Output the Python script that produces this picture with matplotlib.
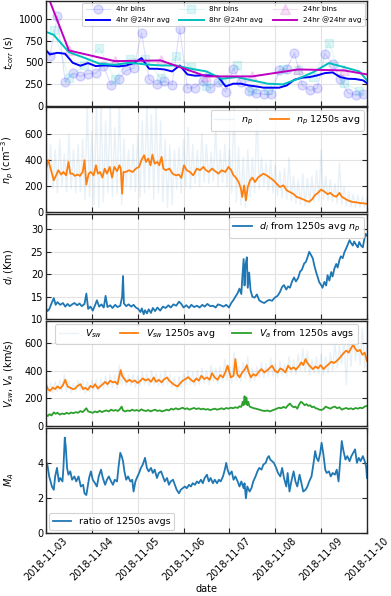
import numpy as np
import pandas as pd
import matplotlib
matplotlib.use('Agg')
import matplotlib.pyplot as plt

plt.rcParams['font.family'] = ['DejaVu Sans']
plt.rcParams['mathtext.fontset'] = 'dejavusans'

START = pd.Timestamp('2018-11-03')
X_END_DAYS = 7.0

# ---------------- panel 1: correlation times (s) ----------------
bins4_vals = [567, 1027, 276, 375, 337, 368, 375, 460, 241, 310, 406, 433, 839, 306,
              245, 283, 241, 885, 203, 207, 287, 200, 272, 157, 425, 272, 168, 145,
              130, 130, 406, 425, 609, 241, 176, 203, 598, 480, 310, 145, 126, 138]
avg4_vals = [690, 590, 609, 598, 494, 460, 490, 456, 463, 460, 452, 463, 490, 548, 425,
             425, 417, 394, 463, 360, 345, 349, 349, 337, 222, 253, 253, 233, 222, 207,
             207, 207, 233, 299, 322, 329, 349, 375, 383, 329, 310, 307, 291, 228]
bins8_vals = [866, 318, 470, 667, 302, 540, 540, 318, 567, 450, 222, 300, 463, 175,
              175, 425, 406, 330, 720, 260, 168]
avg8_vals = [885, 816, 616, 552, 483, 471, 495, 475, 463, 463, 425, 394, 310, 329, 291,
             253, 245, 310, 387, 490, 444, 394, 190]
bins24_days = [0.5, 1.5, 2.5, 3.5, 4.5, 5.5, 6.5]
bins24_vals = [636, 513, 521, 337, 337, 417, 406]
avg24_days = [-0.5, 0.5, 1.5, 2.5, 3.5, 4.5, 5.5, 6.5, 7.5]
avg24_vals = [2000, 636, 513, 521, 337, 337, 417, 406, 314]

# ---------------- panel 2: proton density ----------------
np_raw_hi = [650, 520, 480, 560, 450, 600, 480, 520, 560, 850, 620, 850, 850, 700, 850, 650,
             850, 560, 480, 520, 600, 700, 850, 750, 850, 700, 560, 520, 480, 500, 560, 650,
             520, 480, 600, 520, 460, 650, 480, 520, 480, 850, 500, 420, 480, 420, 800, 420,
             380, 400, 360, 320, 340, 420, 280, 250, 300, 260, 280, 320, 480, 280, 250, 220,
             380, 200, 160, 140, 130, 120, 110]
np_raw_lo = [250, 180, 150, 200, 160, 180, 150, 160, 100, 120, 60, 40, 80, 150, 120, 140,
             60, 200, 180, 160, 120, 150, 180, 100, 150, 80, 40, 60, 180, 150, 200, 180,
             220, 200, 230, 220, 240, 200, 230, 200, 150, 80, 60, 40, 120, 150, 180, 200,
             170, 150, 130, 110, 100, 90, 70, 60, 50, 70, 80, 90, 100, 90, 80, 70,
             60, 50, 45, 40, 40, 40, 40]
np_days = [0.00, 0.05, 0.11, 0.17, 0.22, 0.27, 0.33, 0.38, 0.44, 0.49, 0.53, 0.58, 0.63, 0.69,
           0.74, 0.80, 0.84, 0.88, 0.93, 0.98, 1.04, 1.09, 1.13, 1.18, 1.23, 1.28, 1.33, 1.39,
           1.44, 1.49, 1.55, 1.60, 1.63, 1.66, 1.69, 1.74, 1.81, 1.89, 1.96, 2.03, 2.08, 2.14,
           2.18, 2.23, 2.28, 2.32, 2.37, 2.43, 2.47, 2.52, 2.56, 2.61, 2.69, 2.76, 2.83, 2.90,
           2.95, 3.01, 3.07, 3.14, 3.21, 3.29, 3.36, 3.43, 3.49, 3.55, 3.62, 3.69, 3.76, 3.83,
           3.91, 3.98, 4.04, 4.09, 4.14, 4.20, 4.25, 4.28, 4.32, 4.36, 4.40, 4.45, 4.50, 4.56,
           4.62, 4.67, 4.74, 4.81, 4.88, 4.96, 5.03, 5.10, 5.18, 5.25, 5.32, 5.39, 5.47, 5.54,
           5.61, 5.68, 5.74, 5.80, 5.86, 5.93, 6.00, 6.07, 6.14, 6.20, 6.26, 6.33, 6.40, 6.45,
           6.52, 6.60, 6.68, 6.76, 6.84, 6.92, 7.00]
np_avg = [336, 400, 323, 246, 284, 323, 290, 310, 284, 387, 297, 297, 280, 290, 280, 310,
          400, 213, 297, 310, 284, 361, 297, 310, 267, 336, 297, 349, 267, 349, 316, 361,
          336, 144, 310, 310, 323, 310, 336, 349, 400, 438, 387, 413, 361, 443, 374, 387,
          361, 426, 336, 323, 336, 297, 284, 290, 264, 361, 323, 310, 284, 336, 323, 349,
          323, 310, 336, 316, 297, 323, 310, 349, 323, 284, 267, 233, 182, 118, 207, 92,
          195, 246, 267, 233, 267, 280, 297, 284, 267, 246, 220, 195, 207, 169, 156, 143,
          118, 110, 100, 88, 82, 100, 130, 150, 175, 160, 140, 150, 130, 120, 150, 120,
          105, 90, 80, 78, 72, 70, 66]

# ---------------- panel 3: ion inertial length ----------------
di_days = [0.00, 0.03, 0.07, 0.12, 0.17, 0.21, 0.25, 0.31, 0.37, 0.42, 0.47, 0.52, 0.57, 0.62,
           0.68, 0.73, 0.78, 0.84, 0.88, 0.92, 0.97, 1.02, 1.07, 1.11, 1.16, 1.21, 1.26, 1.30,
           1.34, 1.40, 1.45, 1.51, 1.56, 1.62, 1.66, 1.68, 1.70, 1.75, 1.80, 1.86, 1.91, 1.96,
           2.01, 2.06, 2.09, 2.13, 2.16, 2.20, 2.24, 2.29, 2.33, 2.38, 2.43, 2.49, 2.55, 2.61,
           2.67, 2.72, 2.78, 2.84, 2.90, 2.95, 3.00, 3.06, 3.12, 3.17, 3.23, 3.29, 3.35, 3.41,
           3.46, 3.52, 3.58, 3.64, 3.70, 3.75, 3.81, 3.87, 3.93, 3.99, 4.04, 4.09, 4.13, 4.18,
           4.22, 4.26, 4.28, 4.31, 4.33, 4.35, 4.38, 4.40, 4.43, 4.46, 4.50, 4.55, 4.60, 4.65,
           4.71, 4.76, 4.81, 4.87, 4.93, 4.99, 5.05, 5.10, 5.15, 5.19, 5.24, 5.28, 5.32, 5.37,
           5.41, 5.45, 5.50, 5.54, 5.58, 5.63, 5.67, 5.71, 5.74, 5.78, 5.82, 5.85, 5.89, 5.93,
           5.96, 6.00, 6.03, 6.07, 6.11, 6.14, 6.18, 6.22, 6.25, 6.29, 6.33, 6.36, 6.40, 6.43,
           6.47, 6.51, 6.54, 6.58, 6.62, 6.65, 6.69, 6.72, 6.76, 6.80, 6.83, 6.87, 6.91, 6.94,
           6.97, 7.00]
di_vals = [12.5, 11.8, 12.2, 13.5, 14.7, 13.2, 13.8, 13.2, 13.6, 12.8, 13.4, 12.9, 13.3, 13.6,
           13.1, 13.5, 12.9, 13.4, 15.7, 12.3, 12.8, 11.9, 13.1, 14.2, 12.8, 13.3, 12.6, 15.2,
           12.7, 13.1, 12.5, 13.2, 12.7, 13.0, 15.0, 19.6, 13.5, 12.9, 13.3, 12.8, 13.2, 12.6,
           12.3, 11.6, 12.4, 11.1, 12.0, 11.3, 12.2, 11.4, 12.5, 11.8, 12.6, 11.9, 12.8, 12.5,
           13.1, 12.6, 13.3, 13.0, 13.9, 13.4, 12.6, 13.1, 12.5, 13.2, 12.7, 13.0, 12.6, 13.2,
           12.8, 13.4, 12.9, 13.0, 12.6, 13.3, 13.1, 12.8, 13.2, 12.6, 13.6, 14.3, 15.0, 15.8,
           16.8, 15.6, 19.0, 23.4, 17.5, 22.0, 23.8, 17.0, 20.4, 16.5, 15.0, 14.8, 15.5, 14.2,
           13.8, 13.6, 14.0, 14.3, 14.1, 14.8, 15.2, 16.0, 17.2, 17.6, 16.6, 17.3, 17.0, 18.5,
           19.3, 18.4, 19.2, 20.6, 21.0, 22.4, 22.8, 24.0, 25.0, 24.3, 23.5, 22.0, 20.5, 19.2,
           18.2, 17.6, 17.0, 18.3, 17.5, 19.8, 18.6, 20.5, 19.5, 21.3, 22.3, 21.5, 23.2, 24.0,
           23.6, 25.0, 25.6, 26.6, 27.6, 27.0, 26.4, 27.3, 26.6, 26.0, 27.2, 26.4, 26.0, 27.8,
           29.0, 28.6]

# ---------------- panel 4: speeds (km/s) ----------------
vsw_raw_hi = [340, 310, 320, 330, 370, 320, 310, 330, 330, 320, 330, 340, 340, 360, 370, 370,
              440, 380, 370, 370, 360, 390, 380, 400, 380, 380, 400, 370, 350, 360, 380, 400,
              390, 400, 420, 400, 440, 420, 430, 480, 440, 530, 430, 460, 500, 420, 430, 460,
              450, 490, 450, 470, 450, 500, 480, 520, 560, 540, 480, 500, 520, 500, 530, 600,
              580, 620, 680, 650, 640, 700, 600]
vsw_raw_lo = [240, 240, 250, 250, 250, 240, 250, 260, 240, 250, 260, 250, 270, 280, 280, 270,
              300, 290, 290, 280, 290, 300, 290, 300, 290, 290, 300, 280, 260, 280, 300, 300,
              290, 300, 310, 300, 320, 310, 320, 330, 310, 330, 320, 340, 320, 330, 350, 350,
              360, 360, 350, 370, 360, 380, 370, 400, 390, 370, 380, 380, 370, 380, 400, 420,
              450, 300, 430, 470, 440, 420, 420]
vsw_days = [0.00, 0.04, 0.09, 0.15, 0.20, 0.25, 0.31, 0.37, 0.42, 0.47, 0.53, 0.59, 0.64, 0.69,
            0.75, 0.81, 0.86, 0.91, 0.97, 1.02, 1.07, 1.13, 1.18, 1.24, 1.29, 1.34, 1.40, 1.46,
            1.51, 1.56, 1.60, 1.63, 1.66, 1.71, 1.76, 1.82, 1.88, 1.94, 2.00, 2.06, 2.11, 2.17,
            2.23, 2.29, 2.35, 2.40, 2.46, 2.52, 2.58, 2.64, 2.69, 2.75, 2.81, 2.87, 2.93, 2.98,
            3.04, 3.10, 3.16, 3.22, 3.28, 3.33, 3.39, 3.45, 3.51, 3.57, 3.62, 3.68, 3.74, 3.80,
            3.86, 3.91, 3.96, 3.99, 4.03, 4.09, 4.13, 4.17, 4.22, 4.28, 4.34, 4.38, 4.42, 4.47,
            4.52, 4.58, 4.64, 4.70, 4.76, 4.81, 4.87, 4.93, 4.99, 5.05, 5.11, 5.16, 5.22, 5.28,
            5.34, 5.40, 5.45, 5.51, 5.57, 5.61, 5.66, 5.70, 5.76, 5.82, 5.88, 5.93, 5.99, 6.05,
            6.11, 6.17, 6.22, 6.28, 6.34, 6.40, 6.46, 6.50, 6.55, 6.60, 6.65, 6.70, 6.73, 6.79,
            6.85, 6.90, 6.95, 7.00]
vsw_avg = [302, 266, 254, 278, 266, 286, 271, 295, 334, 286, 276, 266, 271, 290, 302, 266,
           276, 261, 290, 278, 302, 271, 286, 302, 319, 302, 327, 315, 319, 302, 363, 404,
           363, 339, 319, 334, 319, 329, 310, 327, 344, 329, 339, 319, 351, 319, 334, 315,
           339, 351, 327, 310, 295, 286, 310, 327, 339, 353, 334, 319, 344, 327, 363, 339,
           351, 334, 382, 351, 334, 368, 351, 387, 436, 399, 351, 363, 484, 375, 351, 387,
           411, 440, 387, 351, 375, 363, 392, 411, 387, 399, 416, 436, 399, 387, 416, 407,
           387, 436, 411, 424, 407, 431, 460, 440, 484, 455, 431, 411, 431, 416, 440, 411,
           431, 448, 465, 455, 470, 490, 515, 530, 545, 530, 560, 590, 565, 540, 550, 515,
           530, 470]
va_days = [0.00, 0.04, 0.08, 0.12, 0.17, 0.21, 0.25, 0.30, 0.35, 0.40, 0.45, 0.50, 0.55, 0.60,
           0.65, 0.70, 0.75, 0.80, 0.85, 0.88, 0.92, 0.97, 1.02, 1.07, 1.12, 1.17, 1.22, 1.27,
           1.32, 1.37, 1.42, 1.47, 1.52, 1.57, 1.62, 1.65, 1.68, 1.73, 1.78, 1.83, 1.88, 1.93,
           1.98, 2.03, 2.08, 2.13, 2.18, 2.23, 2.28, 2.33, 2.38, 2.43, 2.48, 2.53, 2.58, 2.63,
           2.68, 2.73, 2.78, 2.83, 2.88, 2.93, 2.98, 3.03, 3.08, 3.13, 3.18, 3.23, 3.28, 3.33,
           3.38, 3.43, 3.48, 3.53, 3.58, 3.63, 3.68, 3.73, 3.78, 3.83, 3.88, 3.93, 3.98, 4.03,
           4.08, 4.13, 4.18, 4.22, 4.26, 4.29, 4.31, 4.33, 4.35, 4.37, 4.39, 4.41, 4.44, 4.48,
           4.53, 4.58, 4.63, 4.68, 4.73, 4.78, 4.83, 4.88, 4.93, 4.98, 5.03, 5.08, 5.13, 5.18,
           5.23, 5.28, 5.32, 5.36, 5.40, 5.44, 5.48, 5.52, 5.56, 5.60, 5.64, 5.68, 5.72, 5.76,
           5.80, 5.84, 5.88, 5.92, 5.96, 6.00, 6.05, 6.10, 6.15, 6.20, 6.25, 6.30, 6.35, 6.40,
           6.45, 6.50, 6.55, 6.60, 6.65, 6.70, 6.75, 6.80, 6.85, 6.90, 6.95, 7.00]
va_vals = [80, 72, 85, 76, 98, 88, 95, 82, 90, 85, 95, 88, 97, 92, 100, 95, 108, 100, 118, 128,
           105, 100, 95, 105, 98, 110, 100, 108, 112, 105, 118, 110, 115, 108, 125, 140, 112,
           105, 112, 108, 118, 110, 115, 108, 120, 112, 108, 115, 105, 112, 118, 108, 113, 105,
           110, 118, 112, 125, 118, 128, 120, 125, 132, 122, 128, 118, 125, 130, 122, 128, 120,
           125, 118, 122, 115, 120, 125, 118, 122, 128, 120, 130, 125, 132, 128, 135, 130, 142,
           138, 175, 150, 215, 160, 205, 150, 175, 140, 135, 128, 125, 120, 115, 110, 108, 112,
           105, 112, 118, 125, 132, 128, 138, 130, 150, 162, 145, 135, 140, 125, 155, 175, 165,
           150, 158, 145, 150, 135, 140, 128, 125, 118, 115, 122, 140, 132, 125, 135, 140, 128,
           135, 118, 125, 130, 122, 128, 120, 130, 125, 132, 128, 140, 145]

# ---------------- panel 5: Alfven Mach number ----------------
ma_days = [0.00, 0.03, 0.07, 0.09, 0.13, 0.17, 0.20, 0.24, 0.28, 0.31, 0.36, 0.38, 0.41, 0.43,
           0.46, 0.49, 0.53, 0.57, 0.62, 0.66, 0.71, 0.76, 0.81, 0.84, 0.88, 0.91, 0.94, 0.98,
           1.02, 1.07, 1.11, 1.15, 1.20, 1.24, 1.29, 1.33, 1.37, 1.42, 1.46, 1.50, 1.55, 1.58,
           1.62, 1.65, 1.68, 1.71, 1.75, 1.79, 1.84, 1.88, 1.91, 1.95, 1.98, 2.03, 2.07, 2.11,
           2.16, 2.20, 2.24, 2.29, 2.33, 2.37, 2.42, 2.46, 2.51, 2.55, 2.59, 2.64, 2.68, 2.72,
           2.77, 2.81, 2.85, 2.90, 2.94, 2.98, 3.03, 3.07, 3.12, 3.16, 3.20, 3.25, 3.29, 3.33,
           3.38, 3.42, 3.46, 3.51, 3.55, 3.59, 3.64, 3.68, 3.73, 3.77, 3.81, 3.86, 3.90, 3.93,
           3.96, 4.00, 4.05, 4.09, 4.13, 4.18, 4.22, 4.26, 4.31, 4.33, 4.36, 4.39, 4.44, 4.48,
           4.52, 4.57, 4.61, 4.65, 4.70, 4.74, 4.79, 4.83, 4.86, 4.89, 4.93, 4.97, 5.02, 5.06,
           5.11, 5.15, 5.19, 5.24, 5.27, 5.31, 5.35, 5.40, 5.44, 5.48, 5.53, 5.57, 5.61, 5.66,
           5.70, 5.74, 5.79, 5.83, 5.87, 5.90, 5.94, 5.98, 6.01, 6.05, 6.09, 6.12, 6.17, 6.21,
           6.25, 6.30, 6.34, 6.38, 6.41, 6.45, 6.48, 6.53, 6.57, 6.62, 6.66, 6.70, 6.74, 6.78,
           6.82, 6.86, 6.91, 6.95, 6.98, 7.00]
ma_vals = [4.12, 3.92, 3.24, 3.05, 2.66, 2.47, 3.24, 3.73, 2.95, 3.15, 2.95, 3.73, 5.48, 4.99,
           3.73, 3.34, 3.53, 3.05, 3.24, 2.95, 3.24, 2.66, 2.76, 2.27, 2.17, 2.66, 3.15, 3.53,
           3.05, 2.85, 2.66, 3.24, 3.63, 3.15, 2.76, 3.05, 3.24, 2.95, 2.76, 3.05, 2.95, 3.73,
           4.60, 4.41, 4.12, 3.53, 3.05, 3.24, 2.95, 3.05, 2.37, 2.95, 3.15, 3.44, 3.73, 3.92,
           4.31, 3.73, 3.53, 3.73, 3.44, 3.63, 3.15, 3.44, 3.53, 3.24, 2.95, 3.15, 2.76, 2.95,
           3.05, 2.76, 2.47, 2.27, 2.47, 2.56, 2.66, 2.56, 2.76, 2.66, 2.85, 2.76, 2.95, 2.85,
           3.05, 2.85, 3.15, 3.34, 2.95, 3.15, 2.85, 3.05, 2.85, 3.05, 2.95, 3.24, 3.63, 4.02,
           3.63, 3.34, 3.53, 3.05, 3.24, 2.95, 2.66, 2.95, 2.56, 2.85, 1.98, 2.66, 2.37, 2.56,
           2.95, 3.24, 3.53, 3.73, 3.63, 3.92, 4.02, 4.31, 4.41, 4.21, 4.12, 4.02, 3.73, 3.44,
           3.24, 3.73, 3.15, 2.66, 3.44, 2.37, 2.95, 3.53, 2.95, 2.66, 3.34, 2.85, 2.37, 2.47,
           2.66, 2.95, 3.24, 3.92, 4.70, 4.31, 4.12, 4.60, 5.18, 4.50, 3.63, 3.44, 3.53, 3.24,
           3.44, 3.34, 3.63, 2.95, 3.92, 5.28, 4.80, 4.21, 4.41, 4.12, 4.41, 4.60, 4.80, 4.02,
           4.31, 4.12, 4.41, 4.12, 3.83, 3.15]

x_tick_labels = ['2018-11-03', '2018-11-04', '2018-11-05', '2018-11-06',
                 '2018-11-07', '2018-11-08', '2018-11-09', '2018-11-10']


def to_dt(days):
    return START + pd.to_timedelta(np.asarray(days, dtype=float), unit='D')


def raw_series(hi, lo):
    n = len(hi)
    t = np.empty(2 * n)
    v = np.empty(2 * n)
    t[0::2] = np.arange(n) * 0.1
    t[1::2] = np.arange(n) * 0.1 + 0.05
    v[0::2] = hi
    v[1::2] = lo
    return to_dt(t), v


# bin centres for the running-window t_corr bins
t_bins4 = to_dt(1 / 12 + np.arange(len(bins4_vals)) / 6)
t_avg4 = to_dt(1 / 12 + (np.arange(len(avg4_vals)) - 1) / 6)
t_bins8 = to_dt(1 / 6 + np.arange(len(bins8_vals)) / 3)
t_avg8 = to_dt(1 / 6 + (np.arange(len(avg8_vals)) - 1) / 3)

fig, axes = plt.subplots(5, 1, sharex=True, figsize=(3.91, 5.96), dpi=100)
fig.subplots_adjust(left=0.1176, right=0.9386, top=0.999, bottom=0.1062, hspace=0.016)

LFS = 6.8
TFS = 7.0


def style(ax):
    ax.set_facecolor('white')
    ax.grid(True, color='#e3e3e3', lw=0.8)
    ax.set_axisbelow(True)
    for s in ax.spines.values():
        s.set_color('#262626')
        s.set_linewidth(1.0)
    ax.tick_params(direction='in', top=True, right=True, length=3.5, width=0.8,
                   labelsize=TFS, color='#262626', labelcolor='black', pad=2)


def legend(ax, fs=LFS, **kw):
    opts = dict(fontsize=fs, fancybox=True, framealpha=0.85, edgecolor='#cccccc',
                borderpad=0.4, labelspacing=0.3, handletextpad=0.8, borderaxespad=0.3)
    opts.update(kw)
    lg = ax.legend(**opts)
    lg.get_frame().set_linewidth(0.8)
    return lg


# panel 1
ax = axes[0]
h_b4, = ax.plot(t_bins4, bins4_vals, marker='o', color='blue', alpha=0.13, ms=6.5, lw=0.8,
                label='4hr bins')
h_b8, = ax.plot(t_bins8, bins8_vals, marker='s', color='c', alpha=0.13, ms=6, lw=0.8,
                label='8hr bins')
h_b24, = ax.plot(to_dt(bins24_days), bins24_vals, marker='^', color='m', alpha=0.13, ms=6.5,
                 lw=0.8, label='24hr bins')
h_a4, = ax.plot(t_avg4, avg4_vals, color='blue', lw=1.4, label='4hr @24hr avg')
h_a8, = ax.plot(t_avg8, avg8_vals, color='c', lw=1.4, label='8hr @24hr avg')
h_a24, = ax.plot(to_dt(avg24_days), avg24_vals, color='m', lw=1.4, label='24hr @24hr avg')
ax.set_ylim(0, 1210)
ax.set_yticks([0, 250, 500, 750, 1000])
ax.set_ylabel(r'$t_{corr}$ (s)', fontsize=TFS)
legend(ax, fs=5.2, handles=[h_b4, h_a4, h_b8, h_a8, h_b24, h_a24], ncol=3, loc='upper right',
       columnspacing=1.3, handlelength=3.4, labelspacing=0.6, borderpad=0.45)

# panel 2
ax = axes[1]
t_raw, v_raw = raw_series(np_raw_hi, np_raw_lo)
ax.plot(t_raw, v_raw, color='C0', alpha=0.1, lw=1.0, label=r'$n_p$')
ax.plot(to_dt(np_days), np_avg, color='C1', lw=1.3, label=r'$n_p$ 1250s avg')
ax.set_ylim(0, 805)
ax.set_yticks([0, 200, 400, 600])
ax.set_ylabel(r'$n_p$ (cm$^{-3}$)', fontsize=TFS)
legend(ax, ncol=2, loc='upper right', columnspacing=1.8)

# panel 3
ax = axes[2]
ax.plot(to_dt(di_days), di_vals, color='C0', lw=1.3, label=r'$d_i$ from 1250s avg $n_p$')
ax.set_ylim(10, 33.4)
ax.set_yticks([10, 15, 20, 25, 30])
ax.set_ylabel(r'$d_i$ (Km)', fontsize=TFS)
legend(ax, loc='upper right')

# panel 4
ax = axes[3]
t_raw, v_raw = raw_series(vsw_raw_hi, vsw_raw_lo)
ax.plot(t_raw, v_raw, color='C0', alpha=0.1, lw=1.0, label=r'$V_{sw}$')
ax.plot(to_dt(vsw_days), vsw_avg, color='C1', lw=1.3, label=r'$V_{sw}$ 1250s avg')
ax.plot(to_dt(va_days), va_vals, color='C2', lw=1.3, label=r'$V_a$ from 1250s avgs')
ax.set_ylim(0, 760)
ax.set_yticks([0, 200, 400, 600])
ax.set_ylabel(r'$V_{sw}$, $V_a$ (km/s)', fontsize=TFS)
legend(ax, ncol=3, loc='upper center', columnspacing=1.8)

# panel 5
ax = axes[4]
ax.plot(to_dt(ma_days), ma_vals, color='C0', lw=1.3, label='ratio of 1250s avgs')
ax.set_ylim(0, 6.05)
ax.set_yticks([0, 2, 4])
ax.set_ylabel(r'$M_A$', fontsize=TFS)
legend(ax, loc='lower left')

for ax in axes:
    style(ax)
    ax.yaxis.set_label_coords(-0.094, 0.5)

axes[-1].set_xlim(to_dt([0.0, X_END_DAYS]))
tick_pos = to_dt(np.arange(len(x_tick_labels)))
axes[-1].set_xticks(tick_pos)
axes[-1].set_xticklabels(x_tick_labels, rotation=45, ha='center')
axes[-1].set_xlabel('date', fontsize=TFS, labelpad=1)

fig.savefig('out.png', dpi=100)
